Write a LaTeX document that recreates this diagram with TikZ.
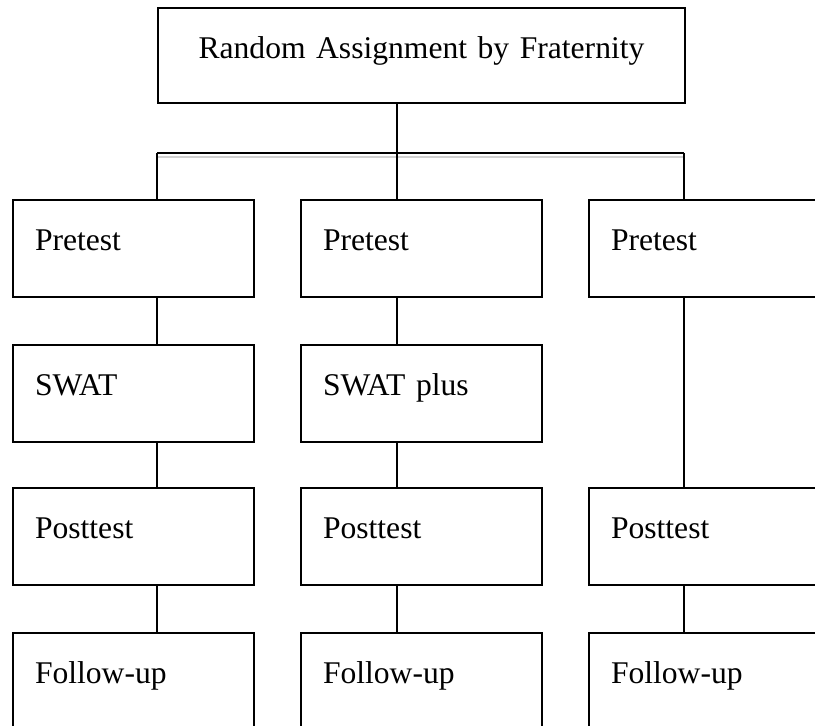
\documentclass[tikz,border=0pt]{standalone}
\usepackage{fontspec}
\setmainfont{Liberation Serif}

\tikzset{
  stepbox/.style={draw, line width=1pt, anchor=north west,
    minimum width=120.5pt, minimum height=48.5pt, text width=98.5pt,
    inner xsep=11pt, inner ysep=0pt, text height=25pt, text depth=23.5pt,
    align=left, font=\fontsize{15.8}{19}\selectfont},
  headbox/.style={stepbox, minimum width=263.5pt, minimum height=47.5pt,
    text width=263.5pt, inner xsep=0pt, text depth=22.5pt, align=center},
  link/.style={line width=1pt}
}

\begin{document}
\begin{tikzpicture}[x=0.5pt,y=-0.5pt]
    \useasboundingbox (0,0) rectangle (815,725);

    % Top box:
    \node [headbox] (head) at (157,7) {Random Assignment by Fraternity};

    % Columns:
    \node [stepbox] (pre1)  at (12,199)  {Pretest};
    \node [stepbox] (pre2)  at (300,199) {Pretest};
    \node [stepbox] (pre3)  at (588,199) {Pretest};

    \node [stepbox] (swat1) at (12,344)  {SWAT};
    \node [stepbox] (swat2) at (300,344) {SWAT plus};

    \node [stepbox] (post1) at (12,487)  {Posttest};
    \node [stepbox] (post2) at (300,487) {Posttest};
    \node [stepbox] (post3) at (588,487) {Posttest};

    \node [stepbox] (fol1)  at (12,632)  {Follow-up};
    \node [stepbox] (fol2)  at (300,632) {Follow-up};
    \node [stepbox] (fol3)  at (588,632) {Follow-up};

    % Branching bar:
    \coordinate (c1) at (157,153);
    \coordinate (c2) at (397,153);
    \coordinate (c3) at (684,153);
    \draw [gray!35, line width=1pt] ([yshift=-2.2pt]c1) -- ([yshift=-2.2pt]c3);
    \draw [link] (head.south -| c2) -- (c2);
    \draw [link] (c1) -- (c3);
    \draw [link] (c1) -- (pre1.north -| c1);
    \draw [link] (c2) -- (pre2.north -| c2);
    \draw [link] (c3) -- (pre3.north -| c3);

    % Links down each column:
    \draw [link] (pre1.south -| c1)  -- (swat1.north -| c1);
    \draw [link] (swat1.south -| c1) -- (post1.north -| c1);
    \draw [link] (post1.south -| c1) -- (fol1.north -| c1);

    \draw [link] (pre2.south -| c2)  -- (swat2.north -| c2);
    \draw [link] (swat2.south -| c2) -- (post2.north -| c2);
    \draw [link] (post2.south -| c2) -- (fol2.north -| c2);

    \draw [link] (pre3.south -| c3)  -- (post3.north -| c3);
    \draw [link] (post3.south -| c3) -- (fol3.north -| c3);
\end{tikzpicture}
\end{document}
